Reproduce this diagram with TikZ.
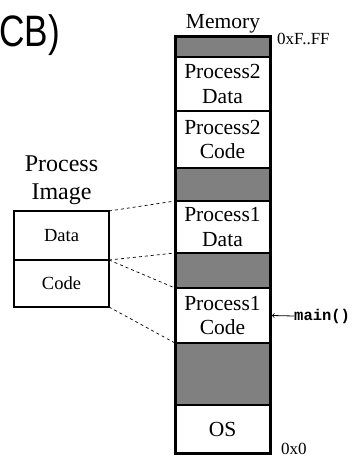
\documentclass[tikz,border=0pt]{standalone}
\usepackage{fontspec}
\setmainfont{Liberation Serif}
\setmonofont{Liberation Mono}
\newfontfamily\titlefont{Liberation Sans}
\usetikzlibrary{positioning}
\tikzset{
  seg/.style={draw, line width=1.5pt, minimum width=95pt, inner sep=0pt, outer sep=0pt,
    align=center, font=\fontsize{21.5}{24.5}\selectfont},
  gap/.style={seg, fill=gray},
  imgbox/.style={draw, line width=1.1pt, minimum width=95pt, inner sep=0pt, outer sep=0pt,
    font=\fontsize{18.5}{20}\selectfont},
  map/.style={dashed, line width=0.7pt}
}

\begin{document}
\begin{tikzpicture}[x=1pt, y=-1pt]
	\useasboundingbox (0,0) rectangle (352,459);
	%
	\node[anchor=base west, inner sep=0pt] (title) at (-1,46) {\titlefont\fontsize{44}{50}\selectfont\scalebox{0.8}[1]{CB)}};
	%
	\node[gap, minimum height=21pt, anchor=north west] (g1) at (175,36) {};
	\node[seg, minimum height=54pt, below=0pt of g1] (p2data) {Process2\\Data};
	\node[seg, minimum height=57pt, below=0pt of p2data] (p2code) {Process2\\Code};
	\node[gap, minimum height=33pt, below=0pt of p2code] (g2) {};
	\node[seg, minimum height=52pt, below=0pt of g2] (p1data) {Process1\\Data};
	\node[gap, minimum height=35pt, below=0pt of p1data] (g3) {};
	\node[seg, minimum height=55pt, below=0pt of g3] (p1code) {Process1\\Code};
	\node[gap, minimum height=62pt, below=0pt of p1code] (g4) {};
	\node[seg, minimum height=48pt, below=0pt of g4] (os) {OS};
	\draw[line width=3pt] (g1.north west) rectangle (os.south east);
	%
	\node[font=\fontsize{21.5}{24}\selectfont, anchor=base] (memory) at (223,28) {Memory};
	\node[font=\fontsize{17}{18}\selectfont, anchor=base west, inner sep=0pt] (high) at (277,44) {0xF..FF};
	\node[font=\fontsize{17}{18}\selectfont, anchor=base west, inner sep=0pt] (low) at (281,454) {0x0};
	\node[font=\fontsize{15.5}{16}\selectfont\ttfamily\bfseries, anchor=west, inner sep=0pt] (main) at (294,316) {main()};
	\draw[-to, line width=0.8pt] (main.west) -- ([xshift=2pt]p1code.east);
	%
	\node[imgbox, minimum height=49pt, anchor=north west] (data) at (14,211) {Data};
	\node[imgbox, minimum height=47pt, below=0pt of data] (code) {Code};
	\node[align=center, font=\fontsize{24}{28}\selectfont, above=3pt of data] (image) {Process\\Image};
	%
	\draw[map] (data.north east) -- (p1data.north west);
	\draw[map] (data.south east) -- (p1data.south west);
	\draw[map] (code.north east) -- (p1code.north west);
	\draw[map] (code.south east) -- (p1code.south west);
\end{tikzpicture}
\end{document}
